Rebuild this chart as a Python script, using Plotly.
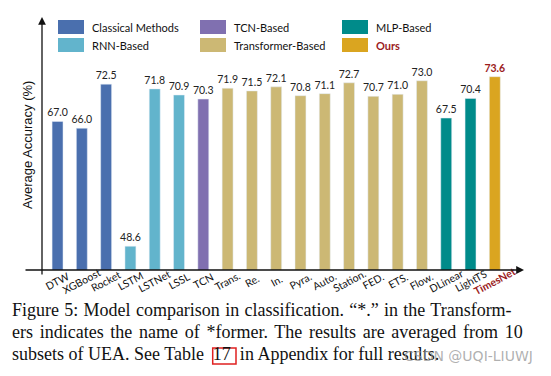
import plotly.graph_objects as go

categories = ["DTW", "XGBoost", "Rocket", "LSTM", "LSTNet", "LSSL", "TCN",
              "Trans.", "Re.", "In.", "Pyra.", "Auto.", "Station.", "FED.",
              "ETS.", "Flow.", "DLinear", "LightTS", "TimesNet"]
accuracy = [67.0, 66.0, 72.5, 48.6, 71.8, 70.9, 70.3,
            71.9, 71.5, 72.1, 70.8, 71.1, 72.7, 70.7,
            71.0, 73.0, 67.5, 70.4, 73.6]
groups = ["Classical Methods"] * 3 + ["RNN-Based"] * 3 + ["TCN-Based"] + \
         ["Transformer-Based"] * 9 + ["MLP-Based"] * 2 + ["Ours"]

group_names = ["Classical Methods", "RNN-Based", "TCN-Based",
               "Transformer-Based", "MLP-Based", "Ours"]
group_colors = ["#4A6FAE", "#62B4CC", "#8070B0", "#CCB874", "#008B8A", "#DAA520"]
ours_red = "#9B1C1C"

W, H = 551, 376
L, R, T, B = 42, 28, 17, 106
pw, ph = W - L - R, H - T - B

def px(x):
    return (x - L) / pw

def py(y):
    return (H - B - y) / ph

colmap = dict(zip(group_names, group_colors))
bar_colors = [colmap[g] for g in groups]
texts = [f"<b>{v:.1f}</b>" if g == "Ours" else f"{v:.1f}" for v, g in zip(accuracy, groups)]
text_colors = [ours_red if g == "Ours" else "#222222" for g in groups]

fig = go.Figure()
fig.add_trace(go.Bar(
    x=categories, y=accuracy, marker_color=bar_colors, width=0.45,
    text=texts, textposition="outside", cliponaxis=False, constraintext="none",
    textfont=dict(family="Lato", size=10.5, color=text_colors),
    showlegend=False, hoverinfo="skip",
))

fig.update_layout(
    width=W, height=H, margin=dict(l=L, r=R, t=T, b=B),
    paper_bgcolor="white", plot_bgcolor="white",
    font=dict(family="Lato", color="#111111"),
    xaxis=dict(type="category", categoryorder="array", categoryarray=categories,
               range=[-0.64, 19.16], showticklabels=False, ticks="", showline=False,
               showgrid=False, zeroline=False, automargin=False),
    yaxis=dict(range=[45.1, 82.4], showticklabels=False, ticks="",
               showgrid=False, zeroline=False, showline=False),
    bargap=0.5,
)

# category labels, rotated about their centre below each bar
for c, g in zip(categories, groups):
    lab = f"<b>{c}</b>" if g == "Ours" else c
    fig.add_annotation(xref="x", yref="paper", x=c, y=py(281), text=lab,
                       textangle=-28, showarrow=False, xanchor="center", yanchor="middle",
                       font=dict(family="Lato", size=10.5,
                                 color=ours_red if g == "Ours" else "#111111"))

# axes with arrows
fig.add_annotation(xref="paper", yref="paper", x=px(42), y=py(17), ax=0, ay=259,
                   axref="pixel", ayref="pixel", showarrow=True, arrowhead=2,
                   arrowsize=1.2, arrowwidth=1.3, arrowcolor="#111111", text="")
fig.add_annotation(xref="paper", yref="paper", x=px(524), y=py(270), ax=-500, ay=0,
                   axref="pixel", ayref="pixel", showarrow=True, arrowhead=2,
                   arrowsize=1.2, arrowwidth=1.3, arrowcolor="#111111", text="")

# y-axis title
fig.add_annotation(xref="paper", yref="paper", x=px(27), y=py(145), text="Average Accuracy (%)",
                   textangle=-90, showarrow=False, xanchor="center", yanchor="middle",
                   font=dict(family="Liberation Sans", size=13, color="#111111"))

# legend (manual)
leg_pos = [(58, 27), (58, 45), (200, 27), (200, 45), (342, 27), (342, 45)]
for name, col, (lx, ly) in zip(group_names, group_colors, leg_pos):
    fig.add_shape(type="rect", xref="paper", yref="paper",
                  x0=px(lx), x1=px(lx + 26), y0=py(ly + 7), y1=py(ly - 7),
                  fillcolor=col, line=dict(width=0))
    label = f"<b>{name}</b>" if name == "Ours" else name
    fig.add_annotation(xref="paper", yref="paper", x=px(lx + 32), y=py(ly), text=label,
                       xanchor="left", yanchor="middle", showarrow=False,
                       font=dict(family="Lato", size=11,
                                 color=ours_red if name == "Ours" else "#111111"))

# caption
nb = "\u00a0"
caption = [
    "<span style='word-spacing:0.8px'>Figure 5: Model comparison in classification. “*.” in the Transform-</span>",
    "<span style='word-spacing:2.2px'>ers indicates the name of *former. The results are averaged from 10</span>",
    f"subsets of UEA. See Table{nb}{nb}17{nb}{nb}in Appendix for full results.",
]
for i, line in enumerate(caption):
    fig.add_annotation(xref="paper", yref="paper", x=px(10), y=py(310 + i * 22), text=line,
                       xanchor="left", yanchor="middle", showarrow=False,
                       font=dict(family="Liberation Serif", size=18, color="#111111"))
fig.add_shape(type="rect", xref="paper", yref="paper",
              x0=px(212.7), x1=px(236), y0=py(364), y1=py(348),
              line=dict(color="#E02020", width=1.5))
fig.add_annotation(xref="paper", yref="paper", x=px(535), y=py(356), text="CSDN @UQI-LIUWJ",
                   xanchor="right", yanchor="middle", showarrow=False,
                   font=dict(family="DejaVu Sans", size=14, color="rgba(150,150,150,0.75)"))

fig.write_html("out.html", config={"displayModeBar": False},
               post_script="document.body.style.margin='0px';")
